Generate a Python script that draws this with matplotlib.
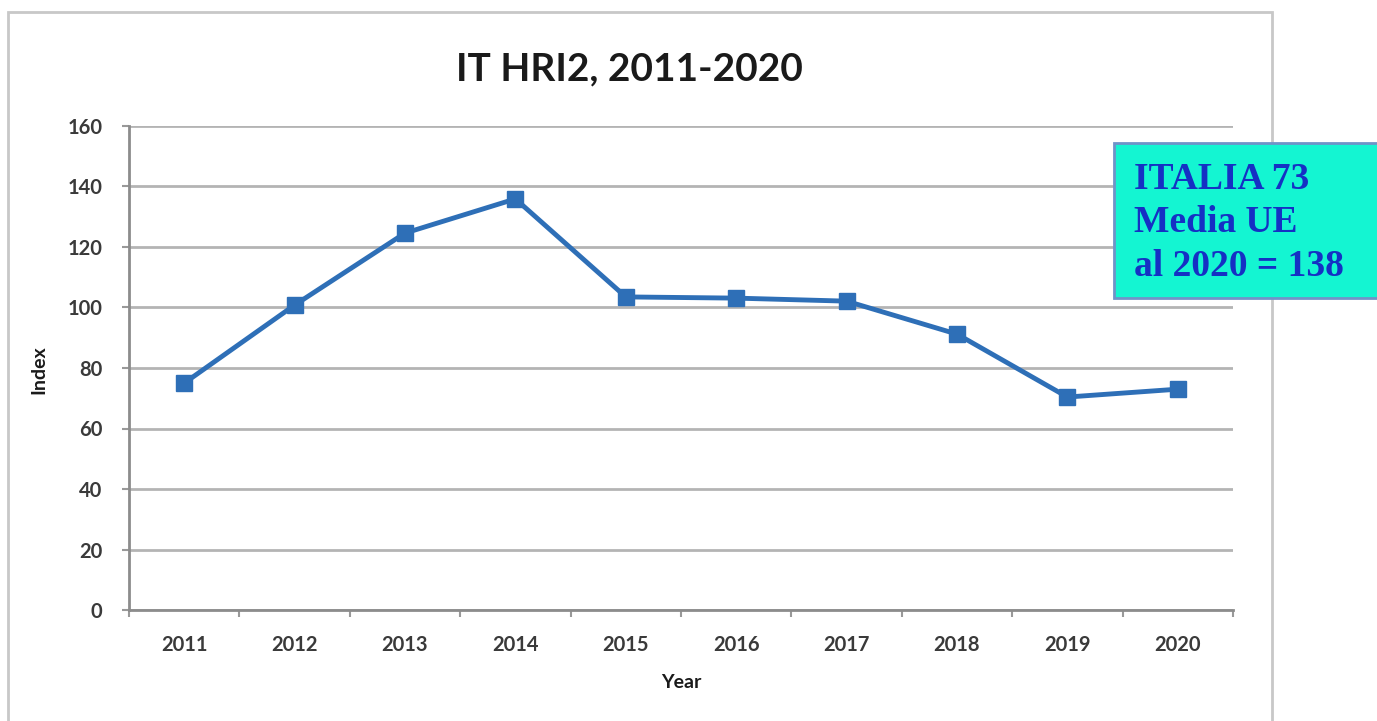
import matplotlib
matplotlib.use("Agg")
import matplotlib.pyplot as plt
from matplotlib.patches import Rectangle

years = ["2011", "2012", "2013", "2014", "2015", "2016", "2017", "2018", "2019", "2020"]
index_values = [75, 100.8, 124.6, 135.9, 103.5, 103.1, 102.1, 91.2, 70.4, 73]
y_ticks = [0, 20, 40, 60, 80, 100, 120, 140, 160]

W, H = 1377, 721
fig = plt.figure(figsize=(W / 100, H / 100), dpi=100)
fig.patch.set_facecolor("white")

# outer chart frame
fig.patches.append(Rectangle((8 / W, -0.01), (1272 - 8) / W, (H - 12) / H + 0.01,
                             transform=fig.transFigure, fill=False,
                             edgecolor="#c8c8c8", linewidth=2))

ax = fig.add_axes([129 / W, 1 - 610 / H, (1233 - 129) / W, (610 - 126) / H])
x = list(range(len(years)))
ax.plot(x, index_values, color="#2e6fb7", linewidth=3.5, marker="s",
        markersize=12, markerfacecolor="#2e6fb7", markeredgecolor="#2e6fb7", zorder=3)

ax.set_xlim(-0.5, len(years) - 0.5)
ax.set_ylim(0, 160)
ax.set_yticks(y_ticks)
ax.set_yticklabels([str(v) for v in y_ticks])
ax.set_xticks(x)
ax.set_xticklabels(years)
ax.set_xticks([i - 0.5 for i in range(len(years) + 1)], minor=True)
ax.tick_params(axis="x", which="major", length=0, pad=18, labelsize=14.5, colors="#3a3a3a")
ax.tick_params(axis="x", which="minor", length=5, width=1.5, color="#999999")
ax.tick_params(axis="y", length=5, width=1.5, color="#999999", pad=14, labelsize=14.5,
               labelcolor="#3a3a3a")
for lbl in ax.get_xticklabels() + ax.get_yticklabels():
    lbl.set_fontfamily("Lato")
    lbl.set_fontweight("bold")

ax.grid(axis="y", color="#b4b4b4", linewidth=2)
ax.set_axisbelow(True)
for s in ["top", "right"]:
    ax.spines[s].set_visible(False)
for s in ["left", "bottom"]:
    ax.spines[s].set_color("#8c8c8c")
    ax.spines[s].set_linewidth(2)

fig.text(629 / W, 1 - 69 / H, "IT HRI2, 2011-2020", ha="center", va="center",
         fontsize=28, fontweight="bold", family="Lato", color="#1a1a1a")
fig.text(39 / W, 1 - 370 / H, "Index", ha="center", va="center", rotation=90,
         fontsize=14, fontweight="bold", family="Lato", color="#1a1a1a")
fig.text(681 / W, 1 - 682 / H, "Year", ha="center", va="center",
         fontsize=14, fontweight="bold", family="Lato", color="#1a1a1a")

# annotation box
fig.patches.append(Rectangle((1114 / W, 1 - 298 / H), (1380 - 1114) / W, (298 - 143) / H,
                             transform=fig.transFigure, facecolor="#14f5d2",
                             edgecolor="#6f93c8", linewidth=2, zorder=5))
fig.text(1134 / W, 1 - 223 / H, "ITALIA 73\nMedia UE\nal 2020 = 138", ha="left", va="center",
         fontsize=27, fontweight="bold", family="Liberation Serif", color="#1530c4",
         linespacing=1.32, zorder=6)

fig.savefig("out.png", dpi=100)
